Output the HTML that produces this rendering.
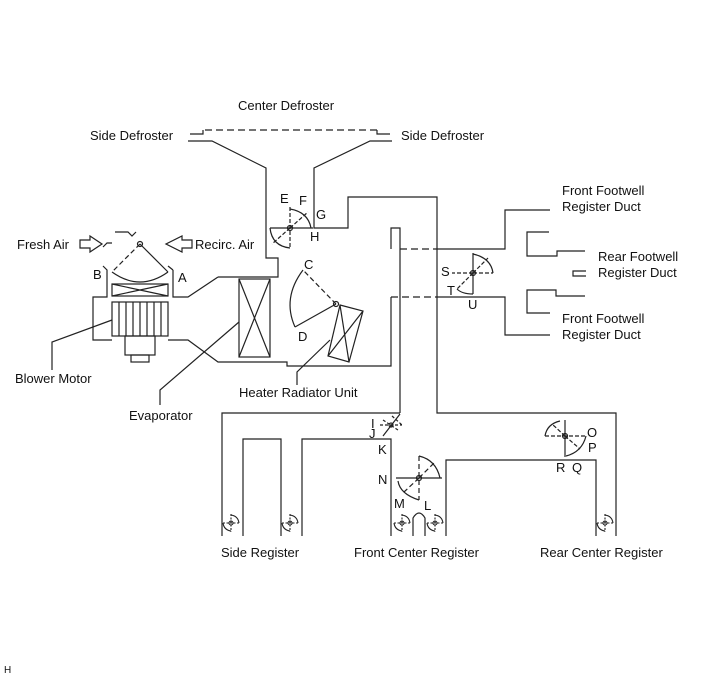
<!DOCTYPE html>
<html><head><meta charset="utf-8"><style>
html,body{margin:0;padding:0;background:#fff;}
svg{display:block;font-family:"Liberation Sans",Arial,sans-serif;}
text{font-size:13px;fill:#111;}
</style></head><body>
<svg width="713" height="681" viewBox="0 0 713 681" xmlns="http://www.w3.org/2000/svg">
<defs>
<g id="sd">
<circle cx="0" cy="0" r="2"/>
<path d="M-8 0 H8 M0 -9 V9" stroke-dasharray="2,1.5"/>
<path d="M0 -8 Q7 -7 8 0 M-8 0 Q-7 7 0 8"/>
</g>
</defs>
<g fill="none" stroke="#222" stroke-width="1.2">
<!-- defroster -->
<path d="M190 134 H203 V130"/>
<path d="M205 130 H377" stroke-dasharray="7,4"/>
<path d="M377 130 V134 H390"/>
<path d="M188 141 H212 L266 168 V258 H278 V277 H218"/>
<path d="M392 141 H370 L314 168 V228 H348 V197 H437 V413 H616 V536"/>
<!-- upper inner duct -->
<path d="M400 413 V228 H391 V249"/>
<path d="M400 249 H437" stroke-dasharray="7,4"/>
<path d="M437 249 H505 V210 H550"/>
<path d="M391 297 H437" stroke-dasharray="7,4"/>
<path d="M437 297 H505 V335 H550"/>
<path d="M391 297 V366 H287 V362 H218 L188 340 H168"/>
<!-- rear footwell -->
<path d="M549 232 H527 V256 H557 V251 H585"/>
<path d="M586 271 H573 V276 H586"/>
<path d="M550 313 H527 V290 H556 V296 H585"/>
<!-- blower housing -->
<path d="M112 340 H93 V297 H107 V270 L103 266"/>
<path d="M103 247 L107 243 H112"/>
<path d="M173 270 V297 H188 L218 277"/>
<path d="M173 270 L168 266"/>
<rect x="112" y="284" width="56" height="12"/>
<path d="M112 284 L168 296 M112 296 L168 284"/>
<rect x="112" y="302" width="56" height="34"/>
<path d="M119 302V336M126 302V336M133 302V336M140 302V336M147 302V336M154 302V336M161 302V336"/>
<rect x="125" y="336" width="30" height="19"/>
<rect x="131" y="355" width="18" height="7"/>
<!-- A/B damper -->
<circle cx="140" cy="244" r="2.5"/>
<path d="M140 244 L168 272"/>
<path d="M140 244 L112 272" stroke-dasharray="5,3"/>
<path d="M112 272 Q140 292 168 272"/>
<path d="M115 232 H128 L132 236 L136 232"/>
<!-- arrows -->
<path d="M80 240 H90 V236 L102 244 L90 252 V248 H80 Z"/>
<path d="M192 240 H182 V236 L166 244 L182 252 V248 H192 Z"/>
<!-- evaporator -->
<rect x="239" y="279" width="31" height="78"/>
<path d="M239 279 L270 357 M270 279 L239 357"/>
<!-- heater -->
<path d="M340 305 L363 311 L349 362 L328 356 Z M340 305 L349 362 M363 311 L328 356"/>
<circle cx="336" cy="304" r="2.5"/>
<path d="M336 304 L303 270" stroke-dasharray="5,3"/>
<path d="M336 304 L295 327"/>
<path d="M303 270 Q282 298 295 327"/>
<!-- EFGH damper -->
<circle cx="290" cy="228" r="2.5"/>
<path d="M270 228 H313"/>
<path d="M290 207 V248" stroke-dasharray="4,2"/>
<path d="M290 228 L308 212 M290 228 L272 244" stroke-dasharray="4,2"/>
<path d="M290 209 Q308 212 311 228 M270 228 Q272 246 290 248"/>
<!-- STU damper -->
<circle cx="473" cy="273" r="2.5"/>
<path d="M473 253 V294"/>
<path d="M473 273 H452 M473 273 H493 M473 273 L457 289 M473 273 L488 258" stroke-dasharray="4,2"/>
<path d="M473 254 Q491 258 493 273 M457 289 Q462 294 473 294"/>
<!-- leaders -->
<path d="M239 322 L160 390 V405"/>
<path d="M112 320 L52 342 V370"/>
<path d="M330 340 L297 372 V385"/>
<!-- lower registers -->
<path d="M400 413 H222 V536"/>
<path d="M243 536 V439 H281 V536"/>
<path d="M302 536 V439 H391 V536"/>
<path d="M413 536 V518 Q419 508 425 518 V536"/>
<path d="M446 536 V460 H596 V536"/>
<!-- IJK damper -->
<circle cx="391" cy="425" r="2"/>
<path d="M383 436 L400 414"/>
<path d="M380 425 H402 M383 420 L398 430 M392 416 L402 425" stroke-dasharray="3,2"/>
<!-- NLM damper -->
<circle cx="419" cy="478" r="2.5"/>
<path d="M396 478 H442"/>
<path d="M419 456 V500 M419 478 L404 492 M419 478 L434 463" stroke-dasharray="5,3"/>
<path d="M419 456 Q436 460 440 478 M398 481 Q400 494 419 500"/>
<!-- OPQR damper -->
<circle cx="565" cy="436" r="2.5"/>
<path d="M565 420 V457"/>
<path d="M545 436 H586 M565 436 L580 449 M565 436 L552 424" stroke-dasharray="4,2"/>
<path d="M545 436 Q547 424 560 421 M586 436 Q582 452 566 456"/>
</g>
<g fill="none" stroke="#222" stroke-width="1.1">
<use href="#sd" x="231" y="523"/>
<use href="#sd" x="290" y="523"/>
<use href="#sd" x="402" y="523"/>
<use href="#sd" x="435" y="523"/>
<use href="#sd" x="605" y="523"/>
</g>
<!-- labels -->
<text x="238" y="110">Center Defroster</text>
<text x="90" y="140">Side Defroster</text>
<text x="401" y="140">Side Defroster</text>
<text x="17" y="249">Fresh Air</text>
<text x="195" y="249">Recirc. Air</text>
<text x="93" y="279">B</text>
<text x="178" y="282">A</text>
<text x="280" y="203">E</text>
<text x="299" y="205">F</text>
<text x="316" y="219">G</text>
<text x="310" y="241">H</text>
<text x="304" y="269">C</text>
<text x="298" y="341">D</text>
<text x="562" y="195">Front Footwell</text>
<text x="562" y="211">Register Duct</text>
<text x="598" y="261">Rear Footwell</text>
<text x="598" y="277">Register Duct</text>
<text x="562" y="323">Front Footwell</text>
<text x="562" y="339">Register Duct</text>
<text x="441" y="276">S</text>
<text x="447" y="295">T</text>
<text x="468" y="309">U</text>
<text x="15" y="383">Blower Motor</text>
<text x="129" y="420">Evaporator</text>
<text x="239" y="397">Heater Radiator Unit</text>
<text x="371" y="428">I</text>
<text x="369" y="438">J</text>
<text x="378" y="454">K</text>
<text x="378" y="484">N</text>
<text x="394" y="508">M</text>
<text x="424" y="510">L</text>
<text x="587" y="437">O</text>
<text x="588" y="452">P</text>
<text x="556" y="472">R</text>
<text x="572" y="472">Q</text>
<text x="221" y="557">Side Register</text>
<text x="354" y="557">Front Center Register</text>
<text x="540" y="557">Rear Center Register</text>
<text x="4" y="673" style="font-size:10px">H</text>
</svg>
</body></html>
